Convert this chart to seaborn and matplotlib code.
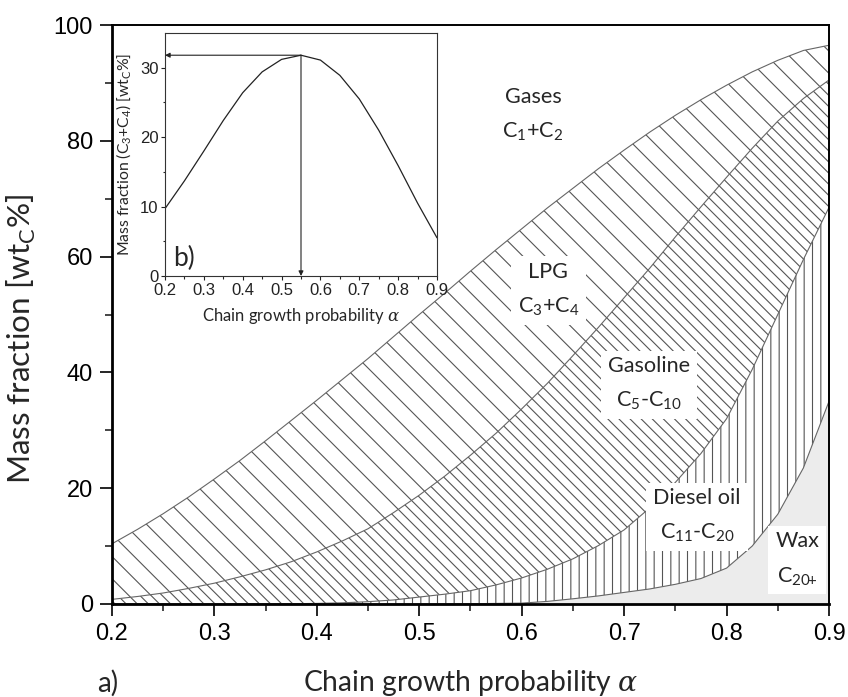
import numpy as np
import pandas as pd
import matplotlib
matplotlib.use("Agg")
import matplotlib.pyplot as plt
import seaborn as sns

# chain growth probability grid for panel a) (read off the chart)
alpha = [0.200, 0.225, 0.250, 0.275, 0.300, 0.325, 0.350, 0.375, 0.400, 0.425,
         0.450, 0.475, 0.500, 0.525, 0.550, 0.575, 0.600, 0.625, 0.650, 0.675,
         0.700, 0.725, 0.750, 0.775, 0.800, 0.825, 0.850, 0.875, 0.900]

# cumulative mass fraction boundaries [wt_C %], bottom to top
wax_top = [0, 0, 0, 0, 0, 0, 0, 0, 0, 0,
           0, 0, 0, 0.02, 0.05, 0.1, 0.15, 0.45, 0.9, 1.4,
           2.0, 2.6, 3.4, 4.4, 6.2, 10.0, 15.5, 23.5, 35.0]
diesel_top = [0, 0, 0, 0, 0, 0, 0.02, 0.05, 0.1, 0.2,
              0.4, 0.7, 1.2, 1.7, 2.3, 3.3, 4.5, 6.0, 7.8, 10.1,
              12.8, 16.6, 21.0, 26.0, 32.0, 40.5, 50.0, 59.5, 68.5]
gasoline_top = [0.8, 1.3, 1.9, 2.7, 3.6, 4.7, 5.9, 7.3, 9.0, 10.9,
                13.0, 15.8, 18.8, 22.1, 25.7, 29.5, 33.7, 38.1, 42.9, 47.8,
                52.9, 58.0, 63.4, 68.6, 73.7, 78.7, 83.4, 87.3, 90.5]
lpg_top = [10.4, 12.9, 15.6, 18.5, 21.6, 24.8, 28.2, 31.7, 35.2, 38.8,
           42.4, 46.2, 50.0, 53.7, 57.5, 61.2, 64.8, 68.4, 71.8, 75.2,
           78.4, 81.5, 84.4, 87.1, 89.6, 91.9, 93.9, 95.6, 96.5]

# inset b): C3+C4 mass fraction
alpha_b = [0.20, 0.25, 0.30, 0.35, 0.40, 0.45, 0.50, 0.55,
           0.60, 0.65, 0.70, 0.75, 0.80, 0.85, 0.90]
c34 = [9.7, 13.7, 18.0, 22.4, 26.4, 29.4, 31.2, 31.8, 31.1, 28.9, 25.5, 21.0, 15.9, 10.5, 5.5]

df = pd.DataFrame({"alpha": alpha, "wax": wax_top, "diesel": diesel_top,
                   "gasoline": gasoline_top, "lpg": lpg_top})
df_b = pd.DataFrame({"alpha": alpha_b, "c34": c34})

sns.set_theme(style="ticks")
plt.rcParams["font.family"] = ["Liberation Sans", "DejaVu Sans"]
plt.rcParams["mathtext.fontset"] = "custom"
plt.rcParams["mathtext.rm"] = "Lato"
plt.rcParams["mathtext.it"] = "DejaVu Serif:italic"
plt.rcParams["hatch.color"] = "#555555"
plt.rcParams["hatch.linewidth"] = 0.4

W, H, DPI = 848, 697, 200
fig = plt.figure(figsize=(W / DPI, H / DPI), dpi=DPI)
ax = fig.add_axes([112 / W, 1 - 604 / H, (829 - 112) / W, (604 - 25) / H])

line_c = "#666666"
hatch_c = "#555555"

# regions
ax.fill_between(df["alpha"], 0, df["wax"], facecolor="#ececec", edgecolor="none", lw=0)
ax.fill_between(df["alpha"], df["wax"], df["diesel"], facecolor="none",
                edgecolor=hatch_c, hatch="||||", lw=0)
ax.fill_between(df["alpha"], df["diesel"], df["gasoline"], facecolor="none",
                edgecolor=hatch_c, hatch="\\" * 6, lw=0)
ax.fill_between(df["alpha"], df["gasoline"], df["lpg"], facecolor="none",
                edgecolor=hatch_c, hatch="\\" * 3, lw=0)

for col in ["wax", "diesel", "gasoline", "lpg"]:
    sns.lineplot(data=df, x="alpha", y=col, ax=ax, color=line_c, lw=0.4)

ax.set_xlim(0.2, 0.9)
ax.set_ylim(0, 100)
ax.set_xticks(np.arange(0.2, 0.91, 0.1))
ax.set_xticks(np.arange(0.25, 0.9, 0.1), minor=True)
ax.set_yticks(np.arange(0, 101, 20))
ax.set_yticks(np.arange(10, 100, 20), minor=True)
ax.set_xticklabels([f"{v:.1f}" for v in np.arange(0.2, 0.91, 0.1)])
ax.tick_params(which="major", direction="out", length=4.3, width=0.6,
               labelsize=8.5, pad=2.5, colors="black")
ax.tick_params(which="minor", direction="out", length=2.5, width=0.6)
for s in ["left", "bottom"]:
    ax.spines[s].set_linewidth(1.0)
for s in ["top", "right"]:
    ax.spines[s].set_linewidth(0.7)
for s in ax.spines.values():
    s.set_color("black")
ax.set_xlabel("")
ax.set_ylabel("Mass fraction [wt$_\\mathrm{C}$%]", family="Lato", fontsize=11.3)
ax.yaxis.set_label_coords(-0.103, 0.458)

fig.text(0.555, 1 - 683 / H, "Chain growth probability $\\alpha$", ha="center", va="center",
         family="Lato", fontsize=10.2)
fig.text(97 / W, 1 - 683 / H, "a)", ha="left", va="center", family="Lato", fontsize=10)

lab_kw = dict(ha="center", va="center", family="Lato", fontsize=7.8, linespacing=1.8)
box = dict(facecolor="white", edgecolor="none", pad=2.5)
ax.text(0.611, 84.5, "Gases\nC$_1$+C$_2$", **lab_kw)
ax.text(0.626, 54.3, "LPG\nC$_3$+C$_4$", bbox=box, **lab_kw)
ax.text(0.724, 38.0, "Gasoline\nC$_5$-C$_{10}$", bbox=box, **lab_kw)
ax.text(0.771, 15.2, "Diesel oil\nC$_{11}$-C$_{20}$", bbox=box, **lab_kw)
ax.text(0.869, 7.7, "Wax\nC$_{20\\!\\!+}$", bbox=box, **lab_kw)

# inset b)
axi = fig.add_axes([165 / W, 1 - 276 / H, (437 - 165) / W, (276 - 33) / H])
axi.set_facecolor("white")
sns.lineplot(data=df_b, x="alpha", y="c34", ax=axi, color="#222222", lw=0.45)
axi.set_xlim(0.2, 0.9)
axi.set_ylim(0, 35)
axi.set_xticks(np.arange(0.2, 0.91, 0.1))
axi.set_xticklabels([f"{v:.1f}" for v in np.arange(0.2, 0.91, 0.1)])
axi.set_xticks(np.arange(0.25, 0.9, 0.1), minor=True)
axi.set_yticks([0, 10, 20, 30])
axi.set_yticks([5, 15, 25], minor=True)
axi.tick_params(which="major", direction="out", length=1.4, width=0.4,
                labelsize=6, pad=1, colors="#222222")
axi.tick_params(which="minor", direction="out", length=0.9, width=0.4)
for s in axi.spines.values():
    s.set_linewidth(0.4)
    s.set_color("#333333")
axi.set_xlabel("Chain growth probability $\\alpha$", family="Lato", fontsize=6, labelpad=3)
axi.set_ylabel("Mass fraction (C$_3$+C$_4$) [wt$_\\mathrm{C}$%]", family="Lato",
               fontsize=5.7, labelpad=2)
axi.text(0.222, 2.5, "b)", family="Lato", fontsize=9.5, ha="left", va="center")

ipk = int(np.argmax(c34))
pk_a, pk_v = alpha_b[ipk], c34[ipk]
arrow = dict(arrowstyle="-|>", lw=0.4, color="#222222", mutation_scale=3.5, shrinkA=0, shrinkB=0)
axi.annotate("", xy=(0.2, pk_v), xytext=(pk_a, pk_v), arrowprops=arrow)
axi.annotate("", xy=(pk_a, 0), xytext=(pk_a, pk_v), arrowprops=arrow)

fig.savefig("out.png", dpi=DPI)
